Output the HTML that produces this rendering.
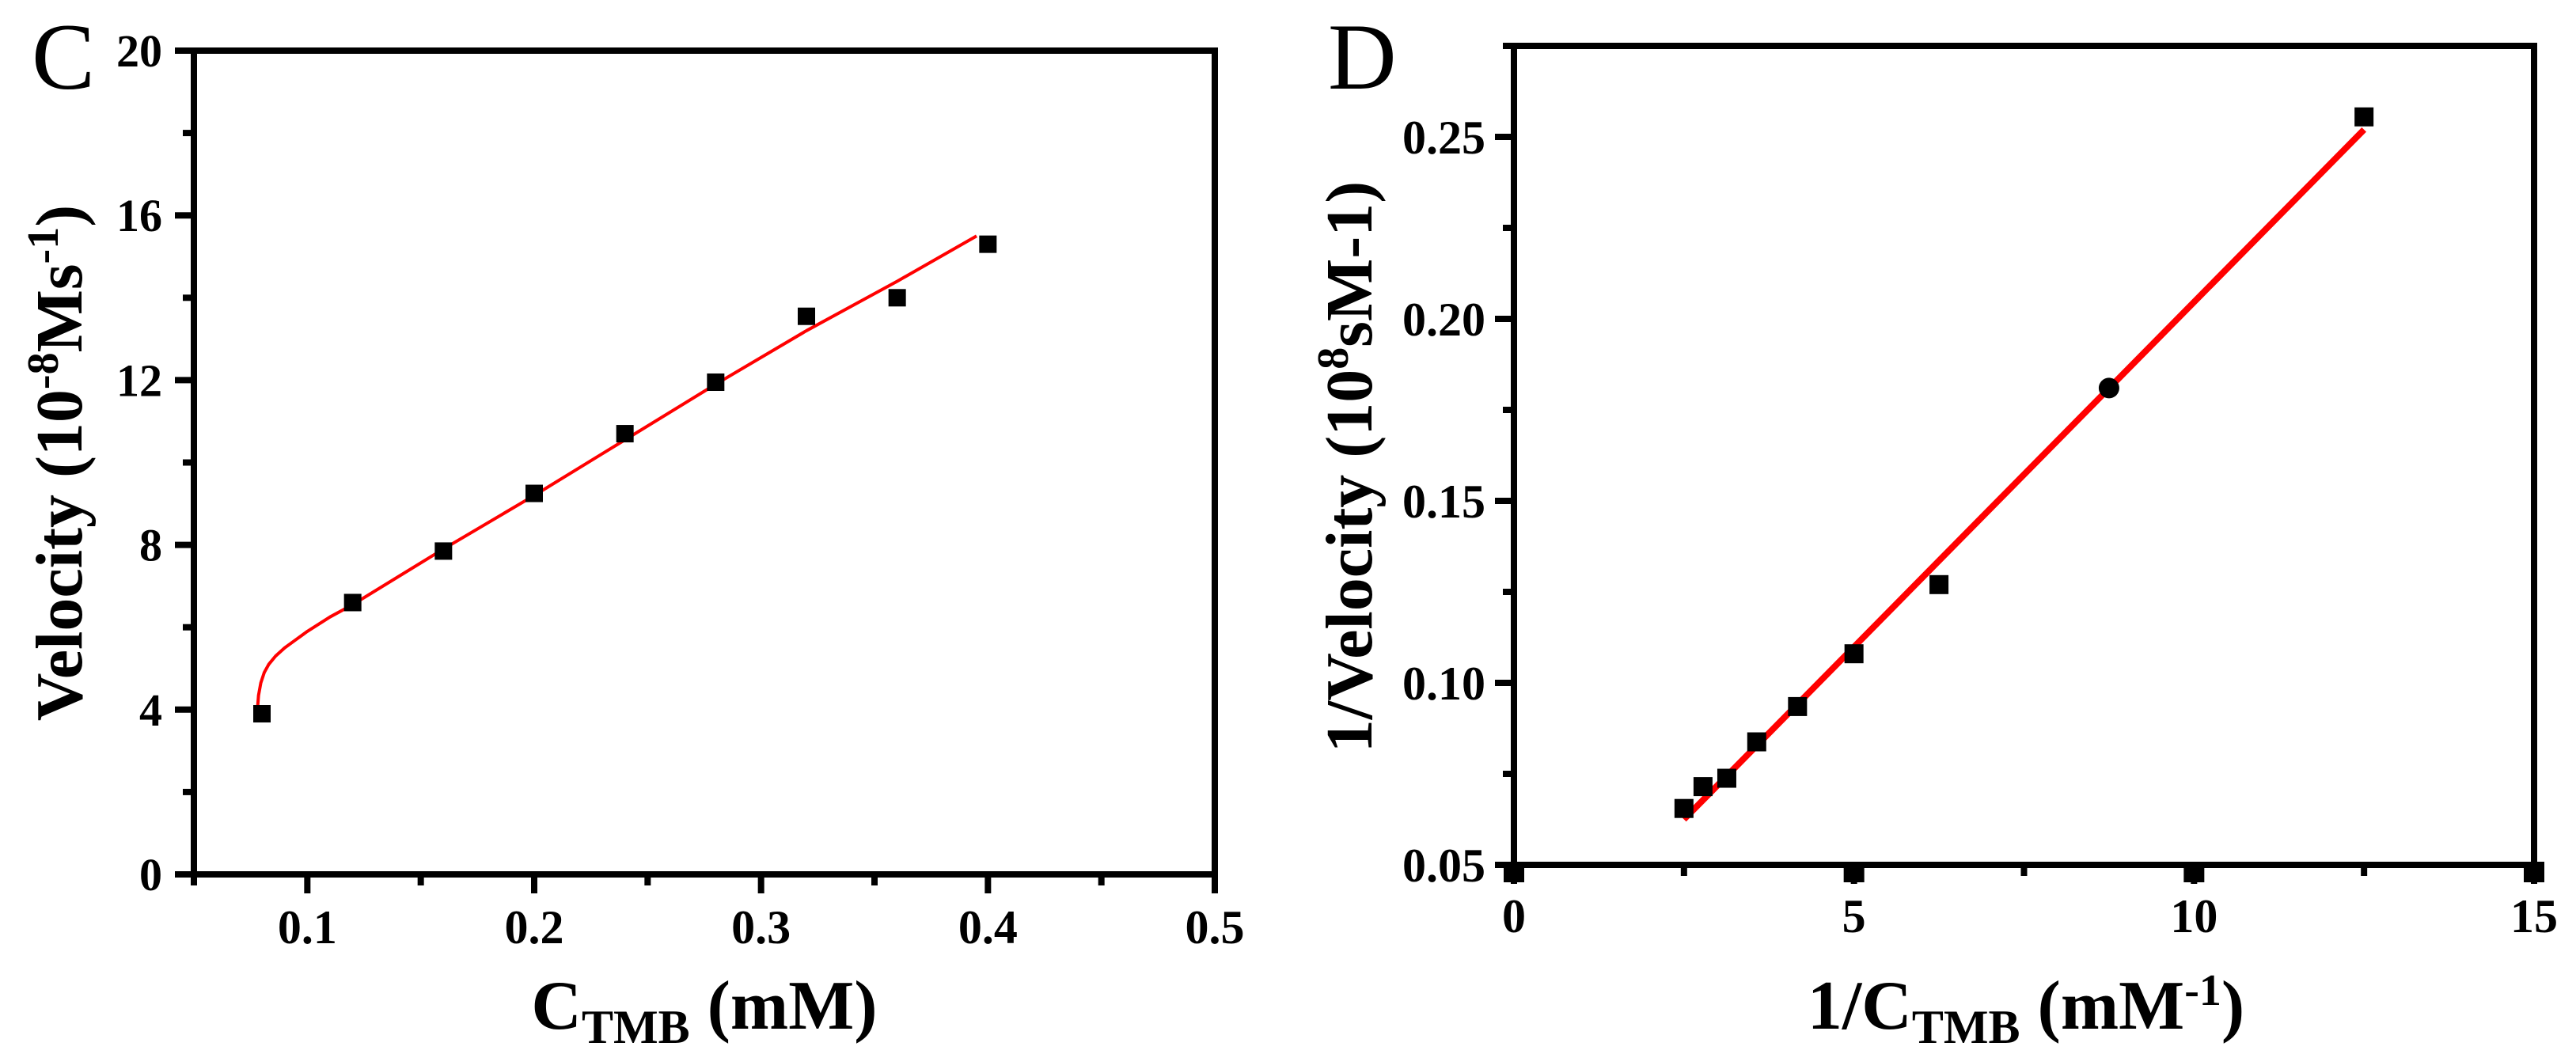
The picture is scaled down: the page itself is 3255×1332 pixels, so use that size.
<!DOCTYPE html>
<html><head><meta charset="utf-8"><style>
html,body{margin:0;padding:0;background:#fff}
svg{display:block}
svg text{font-family:"Liberation Serif","Times New Roman",serif}
</style></head><body>
<svg id="chart" width="3255" height="1332" viewBox="0 0 3255 1332" font-family="Liberation Serif, serif">
<g id="pc"></g>
<g id="pd"></g>
</svg>
<script>
// Panel C data
const cX = [0.08,0.12,0.16,0.20,0.24,0.28,0.32,0.36,0.40];
const cY = [3.9,6.6,7.85,9.25,10.7,11.95,13.55,14.0,15.3];
const cFitX = [0.078,0.0785,0.0795,0.081,0.083,0.086,0.09,0.095,0.10,0.11,0.12,0.16,0.20,0.24,0.28,0.32,0.36,0.395];
const cFitY = [4.0,4.35,4.65,4.9,5.1,5.3,5.5,5.7,5.9,6.25,6.55,7.9,9.2,10.55,11.9,13.2,14.4,15.5];
const cXTicks = [0.1,0.2,0.3,0.4,0.5];
const cXTickLabels = ["0.1","0.2","0.3","0.4","0.5"];
const cYTicks = [0,4,8,12,16,20];
const cYTickLabels = ["0","4","8","12","16","20"];
// Panel D data
const dX = [2.5,2.78,3.13,3.57,4.17,5.0,6.25,12.5];
const dY = [0.0655,0.0715,0.0738,0.0838,0.0935,0.108,0.127,0.2555];
const dCircX = [8.75];
const dCircY = [0.181];
const dAxisMarkX = [0,5,10,15];
const dAxisMarkY = [0.05,0.05,0.05,0.05];
const dFitX = [2.5,12.5];
const dFitY = [0.0625,0.252];
const dXTicks = [0,5,10,15];
const dXTickLabels = ["0","5","10","15"];
const dYTicks = [0.05,0.10,0.15,0.20,0.25];
const dYTickLabels = ["0.05","0.10","0.15","0.20","0.25"];

const NS="http://www.w3.org/2000/svg";
function mk(parent,tag,attrs,text){const e=document.createElementNS(NS,tag);for(const k in attrs)e.setAttribute(k,attrs[k]);if(text!==undefined)e.textContent=text;parent.appendChild(e);return e;}

// Panel C
const gc=document.getElementById('pc');
const cxs=v=>245+(v-0.05)/(0.45)*(1535-245);
const cys=v=>1105-v/20*(1105-64);
let fr=mk(gc,'rect',{x:245,y:64,width:1290,height:1041,fill:'none',stroke:'#000','stroke-width':8});


for(let v=0.05;v<=0.5001;v+=0.05){const x=cxs(v);const major=Math.abs(Math.round(v*10)-v*10)<1e-6;
 let t=mk(gc,'line',{x1:x,y1:1105,x2:x,y2:1105+(major?24:14),stroke:'#000','stroke-width':8});
 
 }
cXTicks.forEach((v,i)=>{let t=mk(gc,'text',{x:cxs(v),y:1192,'text-anchor':'middle','font-size':60,'font-weight':'bold'},cXTickLabels[i]);
 
 });
for(let v=0;v<=20;v+=2){const y=cys(v);const major=v%4===0;
 let t=mk(gc,'line',{x1:245,y1:y,x2:245-(major?24:14),y2:y,stroke:'#000','stroke-width':8});
 
 }
cYTicks.forEach((v,i)=>{let t=mk(gc,'text',{x:205,y:cys(v)+20,'text-anchor':'end','font-size':58,'font-weight':'bold'},cYTickLabels[i]);
 
 });
let pc='';cFitX.forEach((x,i)=>{pc+=(i?'L':'M')+cxs(x)+','+cys(cFitY[i]);});
let fc=mk(gc,'path',{d:pc,fill:'none',stroke:'#ff0000','stroke-width':4,'stroke-linejoin':'round'});


cX.forEach((x,i)=>{let r=mk(gc,'rect',{x:cxs(x)-11,y:cys(cY[i])-11,width:22,height:22,fill:'#000'});
 
 });
let lc=mk(gc,'text',{x:40,y:112,'font-size':120},'C');


let xtc=mk(gc,'text',{x:890,y:1300,'text-anchor':'middle','font-size':88,'font-weight':'bold'});
xtc.innerHTML='C<tspan font-size="60" dy="18">TMB</tspan><tspan dy="-18"> (mM)</tspan>';


let ytc=mk(gc,'text',{x:0,y:0,'text-anchor':'middle','font-size':84,'font-weight':'bold',transform:'translate(103,585) rotate(-90)'});
ytc.innerHTML='Velocity (10<tspan font-size="56" dy="-30">-8</tspan><tspan dy="30">Ms</tspan><tspan font-size="56" dy="-30">-1</tspan><tspan dy="30">)</tspan>';



// Panel D
const gd=document.getElementById('pd');
const dxs=v=>1913+v/15*(3202-1913);
const dys=v=>1093-(v-0.05)/0.225*(1093-58);
let fr2=mk(gd,'rect',{x:1913,y:58,width:1289,height:1035,fill:'none',stroke:'#000','stroke-width':8});


for(let v=0;v<=15.001;v+=2.5){const x=dxs(v);const major=Math.abs(v%5)<1e-6;
 let t=mk(gd,'line',{x1:x,y1:1093,x2:x,y2:1093+(major?24:14),stroke:'#000','stroke-width':8});
 
 }
dXTicks.forEach((v,i)=>{let t=mk(gd,'text',{x:dxs(v),y:1178,'text-anchor':'middle','font-size':60,'font-weight':'bold'},dXTickLabels[i]);
 
 });
for(let k=0;k<=9;k++){const v=0.05+k*0.025;const y=dys(v);const major=k%2===0;
 let t=mk(gd,'line',{x1:1913,y1:y,x2:1913-(major?24:14),y2:y,stroke:'#000','stroke-width':8});
 
 }
dYTicks.forEach((v,i)=>{let t=mk(gd,'text',{x:1877,y:dys(v)+21,'text-anchor':'end','font-size':60,'font-weight':'bold'},dYTickLabels[i]);
 
 });
let fd=mk(gd,'line',{x1:dxs(dFitX[0]),y1:dys(dFitY[0]),x2:dxs(dFitX[1]),y2:dys(dFitY[1]),stroke:'#ff0000','stroke-width':8});


dX.forEach((x,i)=>{let r=mk(gd,'rect',{x:dxs(x)-12,y:dys(dY[i])-12,width:24,height:24,fill:'#000'});
 
 });
dCircX.forEach((x,i)=>{let c=mk(gd,'circle',{cx:dxs(x),cy:dys(dCircY[i]),r:13,fill:'#000'});
 
 });
dAxisMarkX.forEach((x,i)=>{let r=mk(gd,'rect',{x:dxs(x)-13,y:dys(dAxisMarkY[i])-4,width:26,height:26,fill:'#000'});
 
 });
let ld=mk(gd,'text',{x:1678,y:112,'font-size':120},'D');


let xtd=mk(gd,'text',{x:2560,y:1300,'text-anchor':'middle','font-size':88,'font-weight':'bold'});
xtd.innerHTML='1/C<tspan font-size="60" dy="18">TMB</tspan><tspan dy="-18"> (mM</tspan><tspan font-size="56" dy="-30">-1</tspan><tspan dy="30">)</tspan>';


let ytd=mk(gd,'text',{x:0,y:0,'text-anchor':'middle','font-size':84,'font-weight':'bold',transform:'translate(1733,590) rotate(-90)'});
ytd.innerHTML='1/Velocity (10<tspan font-size="56" dy="-30">8</tspan><tspan dy="30">sM-1)</tspan>';


</script>
</body></html>
